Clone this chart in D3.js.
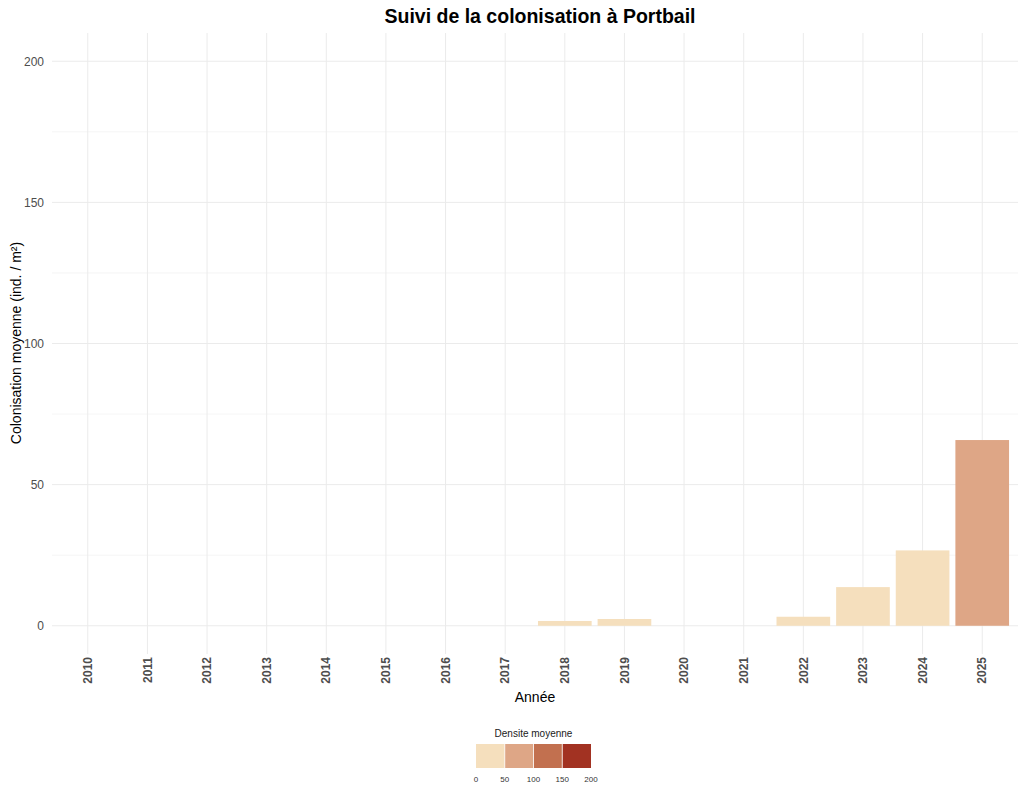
<!DOCTYPE html>
<html><head><meta charset="utf-8">
<script src="https://cdn.jsdelivr.net/npm/d3@7"></script>
<style>body{margin:0;background:#fff}svg{display:block;font-family:"Liberation Sans",Arial,sans-serif}</style>
</head><body><svg id="c" width="1024" height="798"></svg>
<script>
const years = ["2010","2011","2012","2013","2014","2015","2016","2017","2018","2019","2020","2021","2022","2023","2024","2025"];
const values = [0,0,0,0,0,0,0,0,1.7,2.4,0,0,3.2,13.7,26.7,65.8];
const yTicks = [0,50,100,150,200];
const legendBreaks = [0,50,100,150,200];
const binColors = ["#F5DFBD","#DEA686","#C2704F","#A23222"];

const svg = d3.select("#c");
const m = {l:52, r:1018, t:33, b:654};
const x = d3.scaleBand().domain(years).range([m.l, m.r]).paddingInner(0.1).paddingOuter(0.15);
const y = d3.scaleLinear().domain([-10, 210]).range([m.b, m.t]);
const color = d3.scaleThreshold().domain([50,100,150]).range(binColors);

// grid
const g = svg.append("g");
[25,75,125,175].forEach(v=>g.append("line").attr("x1",m.l).attr("x2",m.r).attr("y1",y(v)).attr("y2",y(v)).attr("stroke","#EBEBEB").attr("stroke-width",0.5));
yTicks.forEach(v=>g.append("line").attr("x1",m.l).attr("x2",m.r).attr("y1",y(v)).attr("y2",y(v)).attr("stroke","#EBEBEB").attr("stroke-width",1));
years.forEach(v=>g.append("line").attr("y1",m.t).attr("y2",m.b).attr("x1",x(v)+x.bandwidth()/2).attr("x2",x(v)+x.bandwidth()/2).attr("stroke","#EBEBEB").attr("stroke-width",1));

// bars
svg.append("g").selectAll("rect").data(years.map((yr,i)=>({yr,v:values[i]}))).join("rect")
  .attr("x",d=>x(d.yr)).attr("width",x.bandwidth())
  .attr("y",d=>y(d.v)).attr("height",d=>y(0)-y(d.v))
  .attr("fill",d=>color(d.v));

// y axis
const ya = svg.append("g").attr("transform",`translate(${m.l},0)`).call(d3.axisLeft(y).tickValues(yTicks).tickSize(0).tickPadding(8));
ya.select(".domain").remove();
ya.selectAll("text").attr("font-size",12).attr("fill","#4D4D4D").attr("font-family","Liberation Sans, Arial, sans-serif");

// x axis
const xa = svg.append("g").attr("transform",`translate(0,${m.b})`).call(d3.axisBottom(x).tickSize(0).tickPadding(0));
xa.select(".domain").remove();
xa.selectAll("text").attr("font-size",12).attr("font-weight","bold").attr("fill","#4D4D4D")
  .attr("font-family","Liberation Sans, Arial, sans-serif")
  .attr("transform","rotate(-90)").attr("text-anchor","end").attr("dy","0.35em").attr("x",-3).attr("y",0);

// titles
svg.append("text").attr("x",540).attr("y",23).attr("text-anchor","middle").attr("font-size",19.5).attr("font-weight","bold").attr("fill","#000").text("Suivi de la colonisation à Portbail");
svg.append("text").attr("x",535).attr("y",702).attr("text-anchor","middle").attr("font-size",14).attr("fill","#000").text("Année");
svg.append("text").attr("transform","translate(21,343) rotate(-90)").attr("text-anchor","middle").attr("font-size",14).attr("fill","#000").text("Colonisation moyenne (ind. / m²)");

// legend
const lx = d3.scaleLinear().domain([0,200]).range([476,591]);
const lg = svg.append("g");
lg.append("text").attr("x",533.5).attr("y",737).attr("text-anchor","middle").attr("font-size",10).attr("fill","#1a1a1a").text("Densite moyenne");
binColors.forEach((c,i)=>lg.append("rect").attr("x",lx(legendBreaks[i])).attr("width",lx(legendBreaks[i+1])-lx(legendBreaks[i])).attr("y",744).attr("height",24).attr("fill",c));
legendBreaks.slice(1,-1).forEach(v=>lg.append("line").attr("x1",lx(v)).attr("x2",lx(v)).attr("y1",744).attr("y2",768).attr("stroke","#fff").attr("stroke-width",0.8));
legendBreaks.forEach(v=>lg.append("text").attr("x",lx(v)).attr("y",782).attr("text-anchor","middle").attr("font-size",8).attr("fill","#333").text(v));
</script></body></html>
